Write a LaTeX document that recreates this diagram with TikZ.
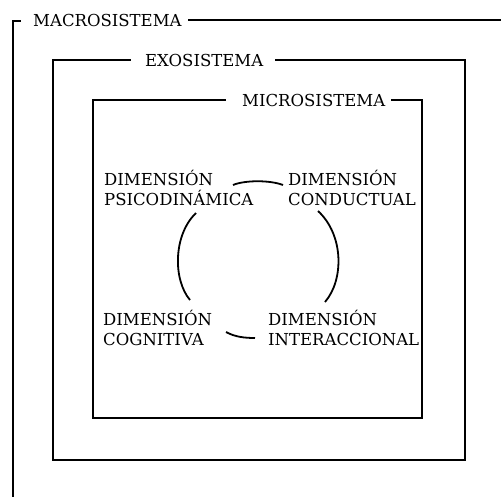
\documentclass[tikz,border=0pt]{standalone}
\usepackage{fontspec}
\setmainfont{DejaVu Serif}
\begin{document}
\begin{tikzpicture}[x=1pt,y=-1pt,
  frame/.style={line width=1.6pt, line cap=rect},
  arcline/.style={line width=1.8pt},
  ttl/.style={inner sep=0pt, font=\fontsize{16.5}{20}\selectfont},
  dim/.style={inner sep=0pt, align=left, font=\fontsize{16.5}{20}\selectfont}]
\useasboundingbox (0,0) rectangle (501,496);
% titles
\node[ttl, anchor=west] (macro) at (33,20) {MACROSISTEMA};
\node[ttl, anchor=west] (exo) at (145,60) {EXOSISTEMA};
\node[ttl, anchor=west] (micro) at (242,100) {MICROSISTEMA};
% macro frame
\draw[frame] (20,21) -- (13,21) -- (13,496);
\draw[frame] ([xshift=7pt]macro.east |- 0,20) -- (501,20);
% exo frame
\draw[frame] ([xshift=-15pt]exo.west |- 0,60) -- (53,60) -- (53,460) -- (465,460) -- (465,60) -- ([xshift=12pt]exo.east |- 0,60);
% micro frame
\draw[frame] ([xshift=-17pt]micro.west |- 0,100) -- (93,100) -- (93,418) -- (422,418) -- (422,100) -- ([xshift=6pt]micro.east |- 0,100);
% dimension labels
\node[dim, anchor=west] (psico) at (104,188) {DIMENSIÓN\\PSICODINÁMICA};
\node[dim, anchor=west] (cond) at (288,188) {DIMENSIÓN\\CONDUCTUAL};
\node[dim, anchor=west] (cogn) at (103,328) {DIMENSIÓN\\COGNITIVA};
\node[dim, anchor=west] (inter) at (268,328) {DIMENSIÓN\\INTERACCIONAL};
% arc end points
\coordinate (a1) at (233,185); \coordinate (a2) at (283,185);
\coordinate (b1) at (196,213); \coordinate (b2) at (190,300);
\coordinate (c1) at (318,211); \coordinate (c2) at (325,302);
\coordinate (d1) at (226,332); \coordinate (d2) at (255,338);
\draw[arcline] (a1) .. controls (245,180) and (270,180) .. (a2);
\draw[arcline] (b1) .. controls (173,235) and (173,280) .. (b2);
\draw[arcline] (c1) .. controls (344,235) and (344,280) .. (c2);
\draw[arcline] (d1) .. controls (235,337) and (245,338) .. (d2);
\end{tikzpicture}
\end{document}
